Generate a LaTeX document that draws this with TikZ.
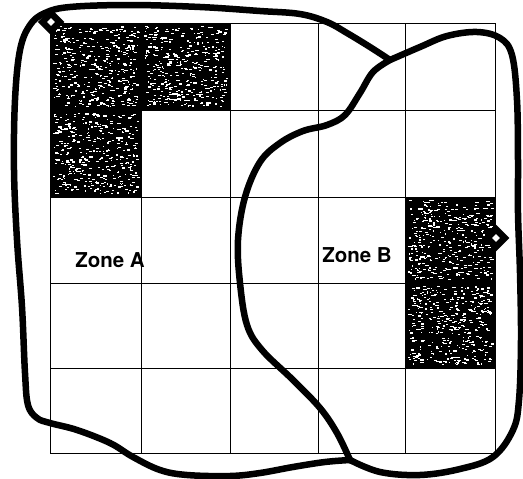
\documentclass[tikz,border=0pt]{standalone}
\usepackage{fontspec}
\setsansfont{TeX Gyre Heros}
\usepackage{tikz}
\usetikzlibrary{shapes.geometric, positioning}

\tikzset{
    gridline/.style={black, line width=0.8pt},
    shadecell/.style={fill=black},
    speckle/.style={fill=white},
    zoneline/.style={black, line width=6.5pt, line join=round, line cap=round},
    marker/.style={diamond, draw=black, fill=white, line width=6.5pt, inner sep=0pt, minimum size=20pt},
    zonelabel/.style={font=\sffamily\bfseries\fontsize{20.5}{24}\selectfont, inner sep=0pt}
}

\begin{document}
\begin{tikzpicture}[x=1pt, y=-1pt]
    \useasboundingbox (0,0) rectangle (523,479);
    \pgfmathsetseed{17}

    % 1. SHADED CELLS (drawn first so the grid sits on top)
    \foreach \xa/\ya/\xb/\yb in {50/23/141/110, 141/23/230/110, 50/110/141/197, 405/197/495/283, 405/283/495/368} {
        \fill[shadecell] (\xa,\ya) rectangle (\xb,\yb);
        \foreach \i in {1,...,380} {
            \pgfmathsetmacro\px{\xa+3+rnd*(\xb-\xa-7)}
            \pgfmathsetmacro\py{\ya+3+rnd*(\yb-\ya-7)}
            \pgfmathsetmacro\pw{1+2.5*rnd}
            \fill[speckle] (\px,\py) rectangle ++(\pw,1.2);
        }
    }

    % 2. GRID
    \foreach \x in {50, 141, 230, 318, 405, 495} {
        \draw[gridline] (\x,23) -- (\x,453);
    }
    \foreach \y in {23, 110, 197, 283, 368, 453} {
        \draw[gridline] (50,\y) -- (495,\y);
    }

    % 3. ZONE BOUNDARIES (three curves between the two junctions)
    \coordinate (jtop) at (390,60);
    \coordinate (jbot) at (350,460);

    % outer left part of Zone A
    \draw[zoneline] plot[smooth, tension=0.6] coordinates {(jtop) (370,47) (347,33) (327,22) (300,14) (260,11) (200,7) (130,5) (70,7) (45,13) (30,25) (20,50) (15,100) (14,170) (17,240) (22,307) (25,373) (28,405) (37,418) (50,423) (77,430) (110,443) (133,457) (160,470) (187,475) (230,476) (260,473) (293,467) (325,462) (jbot)};

    % shared middle curve
    \draw[zoneline] plot[smooth, tension=0.6] coordinates {(jtop) (373,72) (360,93) (345,115) (327,125) (303,131) (280,143) (260,162) (245,197) (238,240) (240,283) (247,325) (262,350) (293,380) (320,408) (337,433) (jbot)};

    % outer right part of Zone B
    \draw[zoneline] plot[smooth, tension=0.6] coordinates {(jtop) (420,47) (447,36) (477,32) (500,38) (512,55) (517,100) (518,160) (518,213) (520,273) (521,340) (519,400) (513,430) (493,457) (460,469) (420,475) (380,472) (jbot)};

    % 4. MARKERS AND LABELS
    \node[marker] (markA) at (51,22) {};
    \node[marker] (markB) at (496,238) {};

    \node[zonelabel] (zoneA) at (110,260) {Zone A};
    \node[zonelabel] (zoneB) at (357,255) {Zone B};

\end{tikzpicture}
\end{document}
